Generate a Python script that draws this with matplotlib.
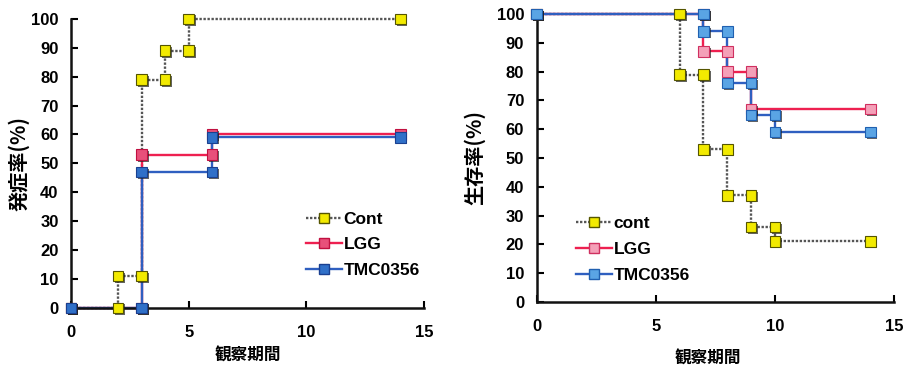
import matplotlib
matplotlib.use("Agg")
import matplotlib.pyplot as plt
import matplotlib.patheffects as pe
from matplotlib.font_manager import FontProperties

# step-curve vertices (day, %) for each group
inc_cont_x = [0, 2, 2, 3, 3, 4, 4, 5, 5, 14]
inc_cont_y = [0, 0, 11, 11, 79, 79, 89, 89, 100, 100]
inc_lgg_x = [0, 3, 3, 6, 6, 14]
inc_lgg_y = [0, 0, 53, 53, 60, 60]
inc_tmc_x = [0, 3, 3, 6, 6, 14]
inc_tmc_y = [0, 0, 47, 47, 59, 59]

surv_cont_x = [0, 6, 6, 7, 7, 8, 8, 9, 9, 10, 10, 14]
surv_cont_y = [100, 100, 79, 79, 53, 53, 37, 37, 26, 26, 21, 21]
surv_lgg_x = [0, 7, 7, 8, 8, 9, 9, 14]
surv_lgg_y = [100, 100, 87, 87, 80, 80, 67, 67]
surv_tmc_x = [0, 7, 7, 8, 8, 9, 9, 10, 10, 14]
surv_tmc_y = [100, 100, 94, 94, 76, 76, 65, 65, 59, 59]

x_ticks = [0, 5, 10, 15]
y_ticks = list(range(0, 101, 10))

num_font = FontProperties(family="Liberation Sans", weight="bold", size=12)
leg_font = FontProperties(family="Liberation Sans", weight="bold", size=12.5)
jp_xfont = FontProperties(family="Noto Sans CJK JP", weight="bold", size=12)
jp_yfont = FontProperties(family="Noto Sans CJK JP", weight="bold", size=14.5)

shadow = [pe.SimplePatchShadow(offset=(1.3, -1.3), shadow_rgbFace="#222222", alpha=0.7), pe.Normal()]


def draw_series(ax, x, y, line_color, ls, face, edge, label):
    ax.plot(x, y, color=line_color, linestyle=ls, lw=1.7, zorder=2, clip_on=False)
    ax.plot(x, y, linestyle="none", marker="s", markersize=7.5, markerfacecolor=face,
            markeredgecolor=edge, markeredgewidth=0.8, zorder=3, clip_on=False,
            path_effects=shadow)
    # legend proxy
    return ax.plot([], [], color=line_color, linestyle=ls, lw=1.7, marker="s",
                   markersize=7.5, markerfacecolor=face, markeredgecolor=edge,
                   label=label)[0]


def style_axes(ax, ylabel, ylab_x, xlab_xy):
    ax.set_xlim(0, 15)
    ax.set_ylim(0, 100)
    ax.set_xticks(x_ticks)
    ax.set_yticks(y_ticks)
    for s in ["top", "right"]:
        ax.spines[s].set_visible(False)
    for s in ["left", "bottom"]:
        ax.spines[s].set_linewidth(1.8)
        ax.spines[s].set_color("#111111")
    ax.tick_params(direction="in", length=5, width=1.5)
    ax.tick_params(axis="y", pad=9)
    ax.tick_params(axis="x", pad=12)
    for lab in ax.get_xticklabels() + ax.get_yticklabels():
        lab.set_fontproperties(num_font)
    ax.set_xlabel("観察期間", fontproperties=jp_xfont)
    ax.set_ylabel(ylabel, fontproperties=jp_yfont)
    ax.yaxis.set_label_coords(ylab_x, 0.5)
    ax.xaxis.set_label_coords(*xlab_xy)


fig = plt.figure(figsize=(9.05, 3.7), dpi=100)
ax1 = fig.add_axes([0.0785, 0.168, 0.39, 0.781])
ax2 = fig.add_axes([0.593, 0.184, 0.395, 0.778])

yellow = "#f2ea00"
h1 = [
    draw_series(ax1, inc_cont_x, inc_cont_y, "#555555", (0, (1.0, 0.7)), yellow, "#555500", "Cont"),
    draw_series(ax1, inc_lgg_x, inc_lgg_y, "#ee2050", "-", "#e8507a", "#c01040", "LGG"),
    draw_series(ax1, inc_tmc_x, inc_tmc_y, "#2f5fc0", "-", "#3070c8", "#1a4090", "TMC0356"),
]
style_axes(ax1, "発症率(%)", -0.118, (0.5, -0.135))
ax1.legend(handles=h1, loc="upper left", bbox_to_anchor=(0.63, 0.375), frameon=False,
           prop=leg_font, handlelength=2.1, handletextpad=0.1, labelspacing=0.6,
           borderpad=0.2)

h2 = [
    draw_series(ax2, surv_cont_x, surv_cont_y, "#555555", (0, (1.0, 0.7)), yellow, "#555500", "cont"),
    draw_series(ax2, surv_lgg_x, surv_lgg_y, "#ee2050", "-", "#f4a0b8", "#d03060", "LGG"),
    draw_series(ax2, surv_tmc_x, surv_tmc_y, "#2f5fc0", "-", "#5aa4e4", "#2060b0", "TMC0356"),
]
style_axes(ax2, "生存率(%)", -0.143, (0.48, -0.165))
ax2.legend(handles=h2, loc="upper left", bbox_to_anchor=(0.075, 0.34), frameon=False,
           prop=leg_font, handlelength=2.1, handletextpad=0.1, labelspacing=0.62,
           borderpad=0.2)

fig.savefig("out.png", dpi=100)
